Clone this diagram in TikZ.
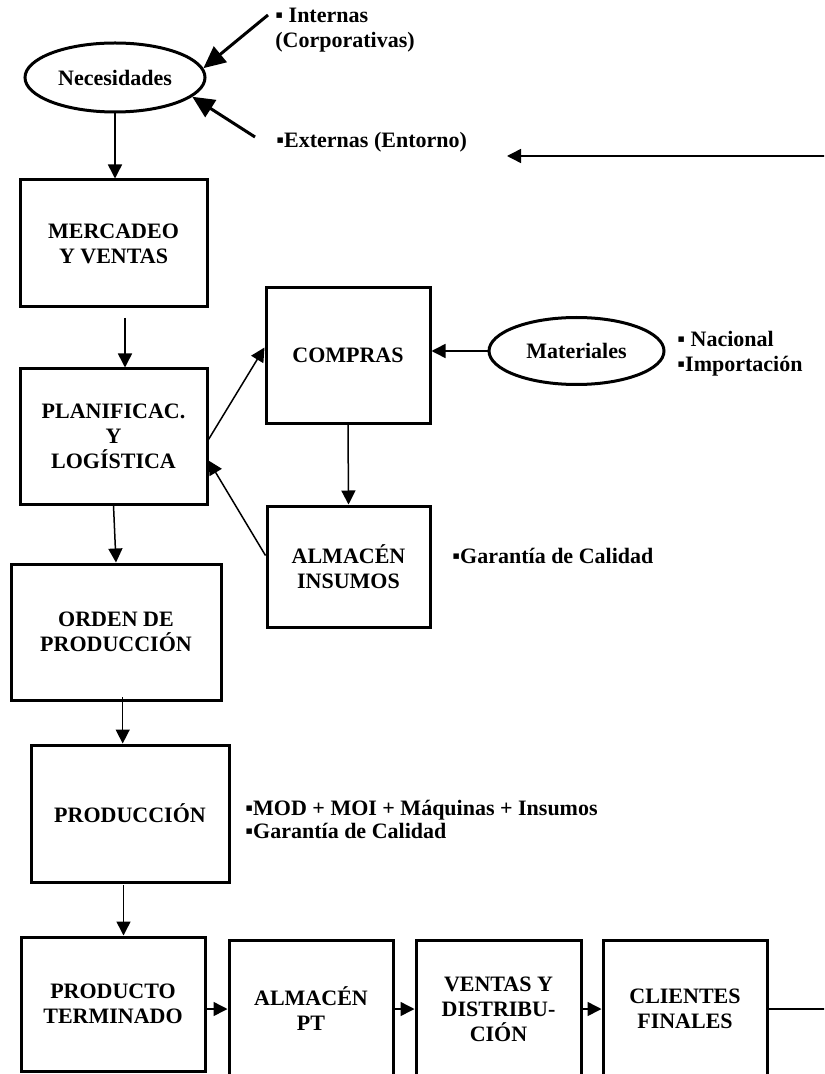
\documentclass[tikz,border=0pt]{standalone}
\usepackage{fontspec}
\setmainfont{Liberation Serif}
\usetikzlibrary{shapes,arrows.meta,positioning,calc}

\begin{document}
\begin{tikzpicture}[x=0.5pt,y=-0.5pt,
	every node/.style={font=\fontsize{11}{12.5}\selectfont\bfseries},
	wh/.style 2 args={minimum width=#1*0.5pt,minimum height=#2*0.5pt},
	block/.style={rectangle,draw=black,line width=1.5pt,align=center,inner sep=0pt},
	bubble/.style={ellipse,draw=black,line width=1.5pt,inner sep=0pt},
	note/.style={align=left,inner sep=0pt},
	conn/.style={line width=0.75pt,-{Triangle[length=7pt,width=7pt]}},
	push/.style={line width=1.5pt,-{Triangle[length=11pt,width=10pt]}}]
\useasboundingbox (0,0) rectangle (824,1074);
\clip (0,0) rectangle (824,1074);
\node[bubble,wh={180}{69}] (nec) at (115,77.5) {Necesidades};
\node[block,wh={187}{127}] (merc) at (113.5,243.5) {MERCADEO\\Y VENTAS};
\node[block,wh={187}{135}] (plan) at (113.5,436.5) {PLANIFICAC.\\Y\\LOGÍSTICA};
\node[block,wh={210}{136}] (orden) at (116,632) {ORDEN DE\\PRODUCCIÓN};
\node[block,wh={198}{137}] (prod) at (130,813.5) {PRODUCCIÓN};
\node[block,wh={164}{135}] (compras) at (348,355.5) {COMPRAS};
\node[block,wh={163}{121}] (almins) at (348.5,566.5) {ALMACÉN\\INSUMOS};
\node[bubble,wh={175}{67}] (mat) at (576.5,351) {Materiales};
\node[block,wh={184}{134}] (pterm) at (113,1004) {PRODUCTO\\TERMINADO};
\node[block,wh={164}{138}] (almpt) at (311,1009) {ALMACÉN\\PT};
\node[block,wh={165}{138}] (ventas) at (498.5,1009) {VENTAS Y\\DISTRIBU-\\CIÓN};
\node[block,wh={164}{138}] (clientes) at (685,1009) {CLIENTES\\FINALES};
\node[note,anchor=north west] (intern) at (275,8) {▪ Internas\\(Corporativas)};
\node[note,anchor=base west] (extern) at (276,148) {▪Externas (Entorno)};
\node[note,anchor=north west] (origen) at (677,331) {▪ Nacional\\▪Importación};
\node[note,anchor=base west] (calidad) at (452,563) {▪Garantía de Calidad};
\node[note,anchor=north west,font=\fontsize{11}{11.5}\selectfont\bfseries] (recursos) at (245,800)
	{▪MOD + MOI + Máquinas + Insumos\\▪Garantía de Calidad};
\coordinate (intsrc) at (268,15);
\coordinate (extsrc) at (255,137);
\coordinate (mercout) at (125,318);
\coordinate (ordenout) at (122.7,697);
\coordinate (prodout) at (123.5,885);
\coordinate (fbturn) at (834,156);
\coordinate (fbend) at (507,156);
\draw[push] (intsrc) -- (nec.6);
\draw[push] (extsrc) -- (nec.-14);
\draw[conn] (nec.south) -- (nec.south |- merc.north);
\draw[conn] (mercout) -- (mercout |- plan.north);
\draw[conn] (plan.south) -- (orden.north);
\draw[conn] (ordenout) -- (ordenout |- prod.north);
\draw[conn] (prodout) -- (prodout |- pterm.north);
\draw[conn] ([yshift=-1.5pt]plan.east) -- ([yshift=4pt]compras.west);
\draw[conn] ([yshift=5.5pt]almins.west) -- ([yshift=-12pt]plan.east);
\draw[conn] (mat.west) -- (mat.west -| compras.east);
\draw[conn] (compras.south) -- (almins.north);
\draw[conn] (pterm.east |- almpt.west) -- (almpt.west);
\draw[conn] (almpt.east) -- (ventas.west);
\draw[conn] (ventas.east) -- (clientes.west);
\draw[conn] (clientes.east) -| (fbturn) -- (fbend);
\end{tikzpicture}
\end{document}
